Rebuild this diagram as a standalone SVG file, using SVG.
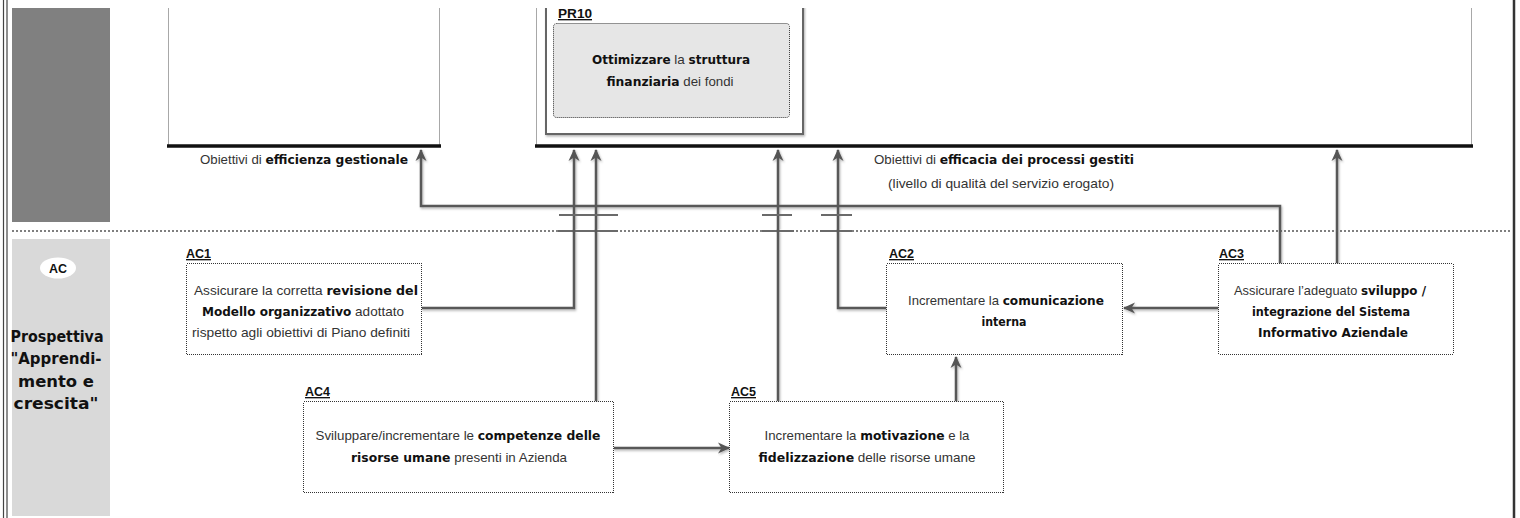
<svg xmlns="http://www.w3.org/2000/svg" width="1520" height="518" viewBox="0 0 1520 518">
  <defs>
    <style>
      .t { font-family: "Liberation Sans", Arial, sans-serif; font-size: 13.5px; fill: #333; text-anchor: middle; }
      .b { font-family: "DejaVu Sans", Verdana, sans-serif; font-weight: bold; font-size: 12.5px; fill: #111; }
      .bs { font-size: 12px; }
      .lbl { font-family: "Liberation Sans", Arial, sans-serif; font-weight: bold; font-size: 13.5px; fill: #111; text-decoration: underline; }
      .side { font-family: "DejaVu Sans", Verdana, sans-serif; font-weight: bold; font-size: 15px; fill: #111; text-anchor: middle; }
      .node { fill: #fff; stroke: #333; stroke-width: 1; stroke-dasharray: 1 1; shape-rendering: crispEdges; }
      .frame { fill: none; stroke: #a8a8a8; stroke-width: 1; }
      .base { stroke: #111; stroke-width: 3.5; }
      .conn { fill: none; stroke: #595959; stroke-width: 2.5; }
      .jump { stroke: #6a6a6a; stroke-width: 2; }
    </style>
    <marker id="ah" viewBox="0 0 12 12" refX="11" refY="6" markerWidth="12" markerHeight="12" markerUnits="userSpaceOnUse" orient="auto">
      <path d="M0,0.5 L12,6 L0,11.5 L3.5,6 z" fill="#555"/>
    </marker>
    <filter id="sh" filterUnits="userSpaceOnUse" x="0" y="0" width="1520" height="518">
      <feDropShadow dx="1" dy="1.5" stdDeviation="1" flood-color="#000" flood-opacity="0.3"/>
    </filter>
  </defs>

  <rect width="1520" height="518" fill="#fff"/>

  <!-- page borders -->
  <line x1="3.5" y1="0" x2="3.5" y2="518" stroke="#444" stroke-width="1.2"/>
  <line x1="7" y1="0" x2="7" y2="518" stroke="#444" stroke-width="1.2"/>
  <line x1="1514" y1="0" x2="1514" y2="518" stroke="#333" stroke-width="2.5"/>

  <!-- perspective bands on the left -->
  <rect x="12" y="8" width="98" height="214" fill="#808080"/>
  <g id="band-ac">
    <rect x="12" y="239" width="98" height="277" fill="#d9d9d9"/>
    <ellipse cx="58" cy="268" rx="18" ry="10.5" fill="#fff"/>
    <text x="58" y="272.5" class="side" style="font-family:'Liberation Sans',Arial,sans-serif;font-size:12.5px" textLength="18" lengthAdjust="spacingAndGlyphs">AC</text>
    <text x="57" y="342" class="side" textLength="93" lengthAdjust="spacingAndGlyphs">Prospettiva</text>
    <text x="56" y="364" class="side" textLength="91" lengthAdjust="spacingAndGlyphs">"Apprendi-</text>
    <text x="56" y="387" class="side" textLength="76" lengthAdjust="spacingAndGlyphs">mento e</text>
    <text x="56" y="409" class="side" textLength="85" lengthAdjust="spacingAndGlyphs">crescita"</text>
  </g>

  <!-- separator between perspectives -->
  <line x1="12" y1="231" x2="1512" y2="231" stroke="#555" stroke-width="1.5" stroke-dasharray="2 2"/>

  <!-- objective areas of the upper perspective -->
  <g id="area-efficienza">
    <line x1="168.5" y1="8" x2="168.5" y2="146" class="frame"/>
    <line x1="439.5" y1="8" x2="439.5" y2="146" class="frame"/>
    <line x1="167" y1="146" x2="441" y2="146" class="base"/>
    <text x="304" y="164" class="t" textLength="208" lengthAdjust="spacingAndGlyphs">Obiettivi di <tspan class="b">efficienza gestionale</tspan></text>
  </g>

  <g id="area-efficacia">
    <line x1="536.5" y1="8" x2="536.5" y2="146" class="frame"/>
    <line x1="1471.5" y1="8" x2="1471.5" y2="146" class="frame"/>
    <line x1="535" y1="146" x2="1473" y2="146" class="base"/>
    <text x="1004" y="164" class="t" textLength="260" lengthAdjust="spacingAndGlyphs">Obiettivi di <tspan class="b">efficacia dei processi gestiti</tspan></text>
    <text x="1001" y="188" class="t" textLength="226" lengthAdjust="spacingAndGlyphs">(livello di qualità del servizio erogato)</text>
  </g>

  <g id="PR10">
    <rect x="546" y="-6" width="257" height="140" fill="#fff" stroke="#666" stroke-width="2" filter="url(#sh)"/>
    <text x="558" y="18" class="lbl" textLength="34" lengthAdjust="spacingAndGlyphs">PR10</text>
    <rect x="553.5" y="23.5" width="236" height="94" rx="3" fill="#e6e6e6" stroke="#333" stroke-width="1" stroke-dasharray="1 1"/>
    <text x="671" y="64" class="t" textLength="158" lengthAdjust="spacingAndGlyphs"><tspan class="b bs">Ottimizzare</tspan> la <tspan class="b bs">struttura</tspan></text>
    <text x="670" y="86" class="t" textLength="127" lengthAdjust="spacingAndGlyphs"><tspan class="b">finanziaria</tspan> dei fondi</text>
  </g>

  <!-- clipped top edge of the page -->
  <rect x="9" y="0" width="1503" height="8" fill="#fff"/>

  <!-- connectors -->
  <g id="connectors">
    <g filter="url(#sh)">
      <path class="conn" d="M421,308 H574 V150" marker-end="url(#ah)"/>
      <path class="conn" d="M596,401 V150" marker-end="url(#ah)"/>
      <path class="conn" d="M778,401 V150" marker-end="url(#ah)"/>
      <path class="conn" d="M886,308 H838 V150" marker-end="url(#ah)"/>
      <path class="conn" d="M1337,263 V150" marker-end="url(#ah)"/>
      <path class="conn" d="M1280,263 V206 H421 V150" marker-end="url(#ah)"/>
      <path class="conn" d="M1218,308 H1124" marker-end="url(#ah)"/>
      <path class="conn" d="M956,401 V357" marker-end="url(#ah)"/>
      <path class="conn" d="M613,448 H729" marker-end="url(#ah)"/>
    </g>
    <!-- crossing marks where the links pass the separator -->
    <line x1="559" y1="215" x2="618" y2="215" class="jump"/>
    <line x1="762" y1="215" x2="792" y2="215" class="jump"/>
    <line x1="821" y1="215" x2="852" y2="215" class="jump"/>
    <line x1="558" y1="231" x2="618" y2="231" stroke="#fff" stroke-width="3"/>
    <line x1="762" y1="231" x2="794" y2="231" stroke="#fff" stroke-width="3"/>
    <line x1="820" y1="231" x2="852" y2="231" stroke="#fff" stroke-width="3"/>
    <line x1="558" y1="231" x2="618" y2="231" class="jump"/>
    <line x1="762" y1="231" x2="794" y2="231" class="jump"/>
    <line x1="820" y1="231" x2="852" y2="231" class="jump"/>
    <line x1="574" y1="229" x2="574" y2="233" class="conn"/>
    <line x1="596" y1="229" x2="596" y2="233" class="conn"/>
    <line x1="778" y1="229" x2="778" y2="233" class="conn"/>
    <line x1="838" y1="229" x2="838" y2="233" class="conn"/>
  </g>

  <g id="AC1">
    <text x="186" y="258" class="lbl" textLength="25" lengthAdjust="spacingAndGlyphs">AC1</text>
    <rect x="186.5" y="263.5" width="235" height="91" class="node"/>
    <text x="306" y="295" class="t" textLength="224" lengthAdjust="spacingAndGlyphs">Assicurare la corretta <tspan class="b">revisione del</tspan></text>
    <text x="303" y="316" class="t" textLength="202" lengthAdjust="spacingAndGlyphs"><tspan class="b bs">Modello organizzativo</tspan> adottato</text>
    <text x="301" y="337" class="t" textLength="218" lengthAdjust="spacingAndGlyphs">rispetto agli obiettivi di Piano definiti</text>
  </g>

  <g id="AC2">
    <text x="889" y="258" class="lbl" textLength="25" lengthAdjust="spacingAndGlyphs">AC2</text>
    <rect x="886.5" y="263.5" width="236" height="91" class="node"/>
    <text x="1006" y="305" class="t" textLength="196" lengthAdjust="spacingAndGlyphs">Incrementare la <tspan class="b">comunicazione</tspan></text>
    <text x="1004" y="326" class="t" textLength="45" lengthAdjust="spacingAndGlyphs"><tspan class="b">interna</tspan></text>
  </g>

  <g id="AC3">
    <text x="1219" y="258" class="lbl" textLength="25" lengthAdjust="spacingAndGlyphs">AC3</text>
    <rect x="1218.5" y="263.5" width="235" height="91" rx="2" class="node"/>
    <text x="1330" y="295" class="t" textLength="192" lengthAdjust="spacingAndGlyphs">Assicurare l’adeguato <tspan class="b">sviluppo /</tspan></text>
    <text x="1331" y="316" class="t" textLength="158" lengthAdjust="spacingAndGlyphs"><tspan class="b">integrazione del Sistema</tspan></text>
    <text x="1333" y="337" class="t" textLength="150" lengthAdjust="spacingAndGlyphs"><tspan class="b">Informativo Aziendale</tspan></text>
  </g>

  <g id="AC4">
    <text x="305" y="396" class="lbl" textLength="25" lengthAdjust="spacingAndGlyphs">AC4</text>
    <rect x="303.5" y="401.5" width="310" height="91" class="node"/>
    <text x="458" y="440" class="t" textLength="285" lengthAdjust="spacingAndGlyphs">Sviluppare/incrementare le <tspan class="b">competenze delle</tspan></text>
    <text x="459" y="462" class="t" textLength="216" lengthAdjust="spacingAndGlyphs"><tspan class="b">risorse umane</tspan> presenti in Azienda</text>
  </g>

  <g id="AC5">
    <text x="731" y="396" class="lbl" textLength="25" lengthAdjust="spacingAndGlyphs">AC5</text>
    <rect x="729.5" y="401.5" width="274" height="91" class="node"/>
    <text x="867" y="440" class="t" textLength="205" lengthAdjust="spacingAndGlyphs">Incrementare la <tspan class="b">motivazione</tspan> e la</text>
    <text x="867" y="462" class="t" textLength="217" lengthAdjust="spacingAndGlyphs"><tspan class="b">fidelizzazione</tspan> delle risorse umane</text>
  </g>
</svg>
